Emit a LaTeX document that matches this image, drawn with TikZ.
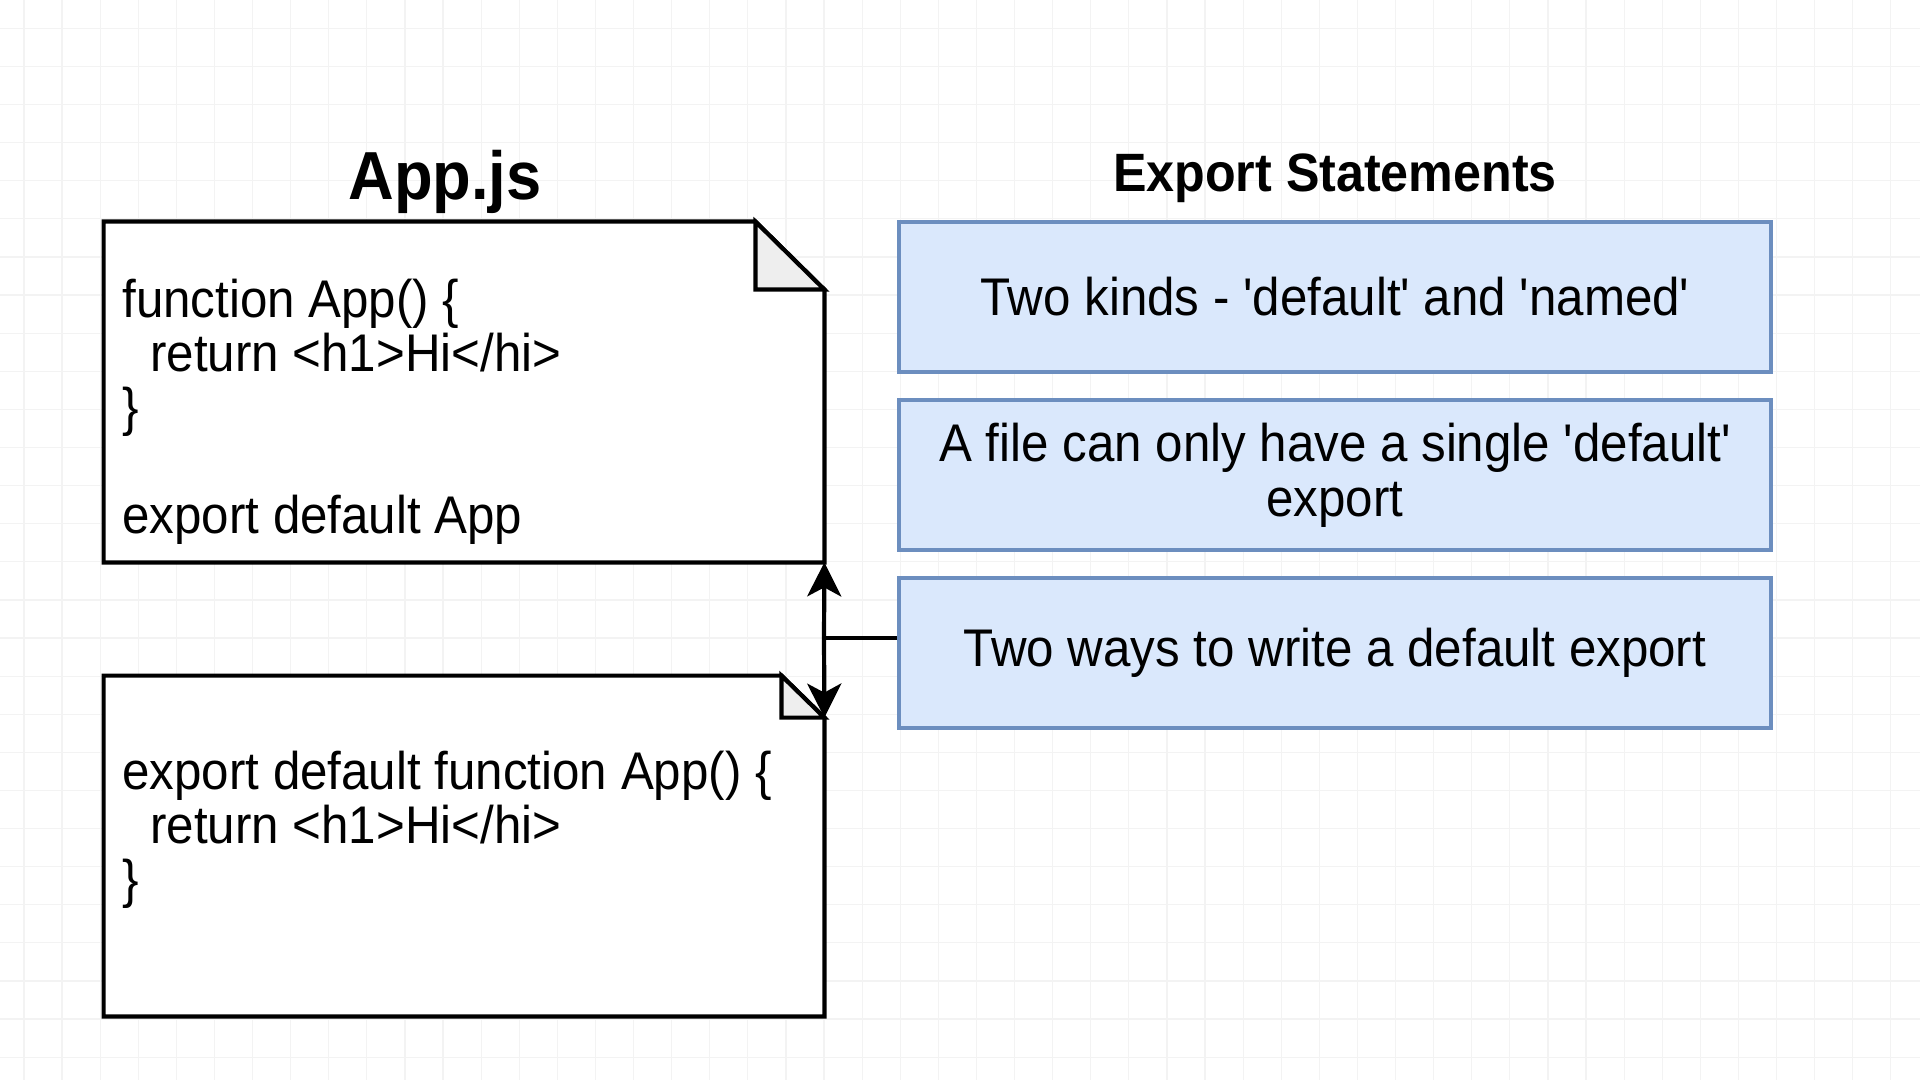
\documentclass[tikz,border=0pt]{standalone}
\usepackage{fontspec}
\setmainfont{Liberation Sans}[Ligatures=TeXOff, FakeStretch=0.93]
\usepackage{xcolor}
\usetikzlibrary{arrows.meta, positioning}
\definecolor{stmtfill}{HTML}{DAE8FC}
\definecolor{stmtline}{HTML}{6C8EBF}
\definecolor{foldfill}{HTML}{EEEEEE}
\definecolor{gridgray}{HTML}{F3F3F3}

\begin{document}
\begin{tikzpicture}[x=0.5pt, y=-0.5pt,
				>={Stealth[length=17pt, width=17pt, inset=4.5pt]},
				note/.style={minimum width=360pt, minimum height=170pt, inner sep=0pt},
				notebox/.style={draw=black, line width=2.1pt, fill=white, line join=miter},
				code/.style={font=\fontsize{26.5}{27}\selectfont, align=left, anchor=base west, inner sep=0pt},
				stmt/.style={draw=stmtline, fill=stmtfill, line width=1.9pt, minimum width=436pt, minimum height=75pt, align=center, font=\fontsize{26.5}{27.5}\selectfont},
				heading/.style={anchor=base, inner sep=0pt},
				link/.style={draw=black, line width=2.1pt}]
				\useasboundingbox (0,0) rectangle (1920,1080);
				\fill[white] (0,0) rectangle (1920,1080);
				\foreach \gx in {-21,...,29}
					\draw[gridgray, line width=0.6pt] ({824+38.1*\gx},0) -- ({824+38.1*\gx},1080);
				\foreach \gy in {-16,...,12}
					\draw[gridgray, line width=0.6pt] (0,{638+38.1*\gy}) -- (1920,{638+38.1*\gy});
				\node at (445,200) (appjs) [heading, font=\bfseries\fontsize{34}{38}\selectfont] {App.js};
				\node at (1335,192) (exports) [heading, font=\bfseries\fontsize{27}{30}\selectfont] {Export Statements};
				\node at (464,392) (app1) [note] {};
				\node at (464,846) (app2) [note] {};
				\draw[notebox] (app1.north west) -- ([xshift=-34.5pt]app1.north east) -- ([yshift=-34pt]app1.north east) -- (app1.south east) -- (app1.south west) -- cycle;
				\draw[notebox, fill=foldfill] ([xshift=-34.5pt]app1.north east) -- ([xshift=-34.5pt, yshift=-34pt]app1.north east) -- ([yshift=-34pt]app1.north east) -- cycle;
				\draw[notebox] (app2.north west) -- ([xshift=-21.5pt]app2.north east) -- ([yshift=-21pt]app2.north east) -- (app2.south east) -- (app2.south west) -- cycle;
				\draw[notebox, fill=foldfill] ([xshift=-21.5pt]app2.north east) -- ([xshift=-21.5pt, yshift=-21pt]app2.north east) -- ([yshift=-21pt]app2.north east) -- cycle;
				\node at (122,533) (code1) [code] {function App() \{\\\hspace*{14pt}return <h1>Hi</hi>\\\}\\[27pt]export default App};
				\node at (122,897) (code2) [code] {export default function App() \{\\\hspace*{14pt}return <h1>Hi</hi>\\\}};
				\node at (1335,297) (kinds) [stmt] {Two kinds - 'default' and 'named'};
				\node at (1335,475) (single) [stmt] {A file can only have a single 'default'\\export};
				\node at (1335,653) (ways) [stmt] {Two ways to write a default export};
				\coordinate (joint) at (824,638);
				\draw[link] (ways.west |- joint) -- (joint);
				\draw[link, ->] (joint) -- (app1.south east);
				\draw[link, ->] (joint) -- ([yshift=-21pt]app2.north east);
			\end{tikzpicture}
\end{document}
